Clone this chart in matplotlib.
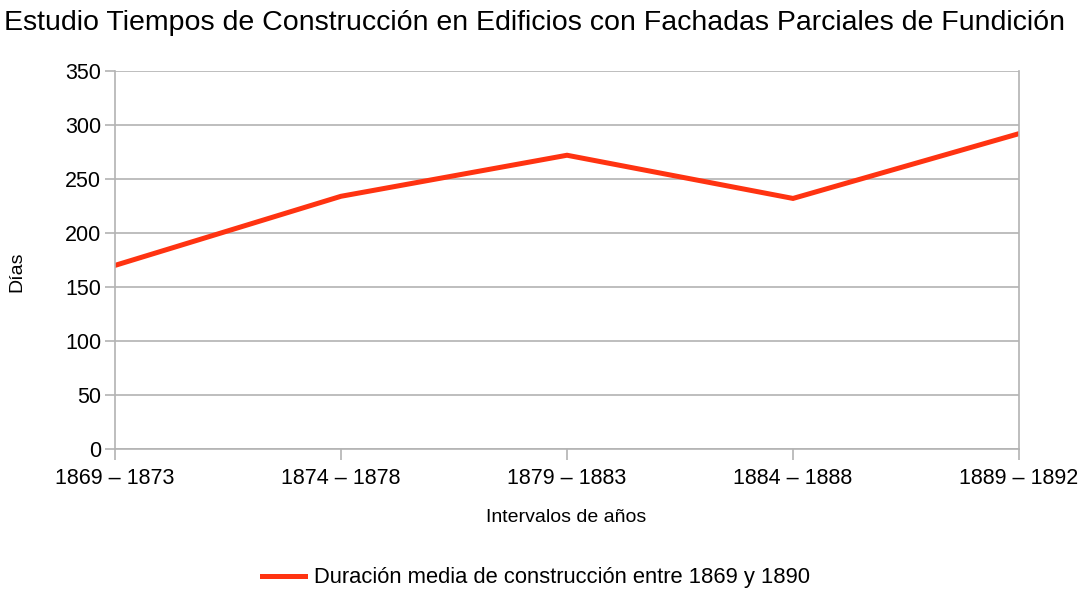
import matplotlib
matplotlib.use("Agg")
import matplotlib.pyplot as plt
from matplotlib.lines import Line2D

plt.rcParams['font.family'] = ['Liberation Sans', 'DejaVu Sans']

intervalos = ["1869 – 1873", "1874 – 1878", "1879 – 1883", "1884 – 1888", "1889 – 1892"]
dias = [170, 234, 272, 232, 292]
serie = "Duración media de construcción entre 1869 y 1890"

rojo = "#ff3311"
gris = "#b3b3b3"

W, H = 1086, 592
fig = plt.figure(figsize=(W / 100, H / 100), dpi=100)
ax = fig.add_axes([115 / W, 1 - 449 / H, (1019 - 115) / W, (449 - 71) / H])

x = list(range(len(intervalos)))
ax.plot(x, dias, color=rojo, lw=3.6, solid_joinstyle="miter")

ax.set_xlim(0, len(intervalos) - 1)
ax.set_ylim(0, 350)
ax.set_yticks(range(0, 351, 50))
ax.set_xticks(x)
ax.set_xticklabels(intervalos)

ax.grid(axis="y", color=gris, lw=1.2)
ax.set_axisbelow(True)
ax.spines["top"].set_visible(False)
for s in ["left", "right", "bottom"]:
    ax.spines[s].set_color(gris)
    ax.spines[s].set_linewidth(1.2)
ax.tick_params(axis="both", colors=gris, labelcolor="black", labelsize=15.5, width=1.2)
ax.tick_params(axis="x", length=8, pad=6)
ax.tick_params(axis="y", length=7, pad=3)

# titulo y etiquetas de ejes
fig.text(535 / W, 1 - 23 / H,
         "Estudio Tiempos de Construcción en Edificios con Fachadas Parciales de Fundición",
         ha="center", va="center", fontsize=20.5)
fig.text(566 / W, 1 - 518 / H, "Intervalos de años", ha="center", va="center", fontsize=14)
fig.text(17 / W, 1 - 272 / H, "Días", ha="center", va="center", rotation=90, fontsize=14)

handle = Line2D([], [], color=rojo, lw=3.6)
fig.legend([handle], [serie], loc="center", bbox_to_anchor=(536 / W, 1 - 578 / H), frameon=False,
           fontsize=15.8, handlelength=1.96, handletextpad=0.37,
           borderpad=0, borderaxespad=0)

fig.savefig("out.png", dpi=100)
